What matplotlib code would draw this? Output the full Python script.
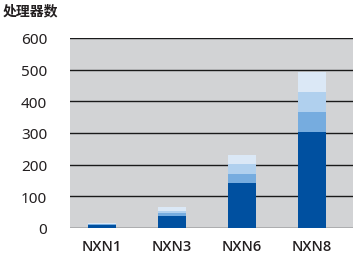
import matplotlib
matplotlib.use("Agg")
import matplotlib.pyplot as plt
import numpy as np

plt.rcParams['font.family'] = ['Noto Sans', 'Noto Sans CJK SC', 'DejaVu Sans']

categories = ['NXN1', 'NXN3', 'NXN6', 'NXN8']
# four stacked layers, bottom to top
layer1 = [10, 38, 142, 304]
layer2 = [2, 9, 30, 63]
layer3 = [2, 7, 30, 63]
layer4 = [2, 12, 30, 63]
yticks = [0, 100, 200, 300, 400, 500, 600]

colors = ['#0050a0', '#76acdf', '#b0d0ee', '#dbe8f6']
text_color = '#231f20'

fig = plt.figure(figsize=(3.59, 2.55), dpi=100)
ax = fig.add_axes([70/359, 26/255, 283/359, 190/255])
ax.set_facecolor('#d2d3d5')

x = np.arange(len(categories))
bottom = np.zeros(len(categories))
for vals, c in zip([layer1, layer2, layer3, layer4], colors):
    ax.bar(x, vals, width=0.4, bottom=bottom, color=c, zorder=3)
    bottom += np.array(vals)

for y in yticks:
    ax.axhline(y, color='#1a1a1a', lw=1.0, zorder=2)

ax.set_xlim(-0.457, 3.586)
ax.set_ylim(0, 600)
ax.set_yticks(yticks)
ax.set_xticks(x)
ax.set_xticklabels(categories, fontsize=10.5, fontweight='semibold',
                   family=['Open Sans'], color=text_color)
ax.set_yticklabels([str(v) for v in yticks], fontsize=11, color=text_color)
ax.tick_params(axis='y', length=0, pad=16.5)
ax.tick_params(axis='x', length=0, pad=8)
for s in ax.spines.values():
    s.set_visible(False)

fig.text(3/359, 1 - 11/255, '处理器数', fontsize=10, fontweight='bold',
         family=['Noto Sans CJK SC'], color=text_color, va='center', ha='left')

fig.savefig('out.png', dpi=100)
